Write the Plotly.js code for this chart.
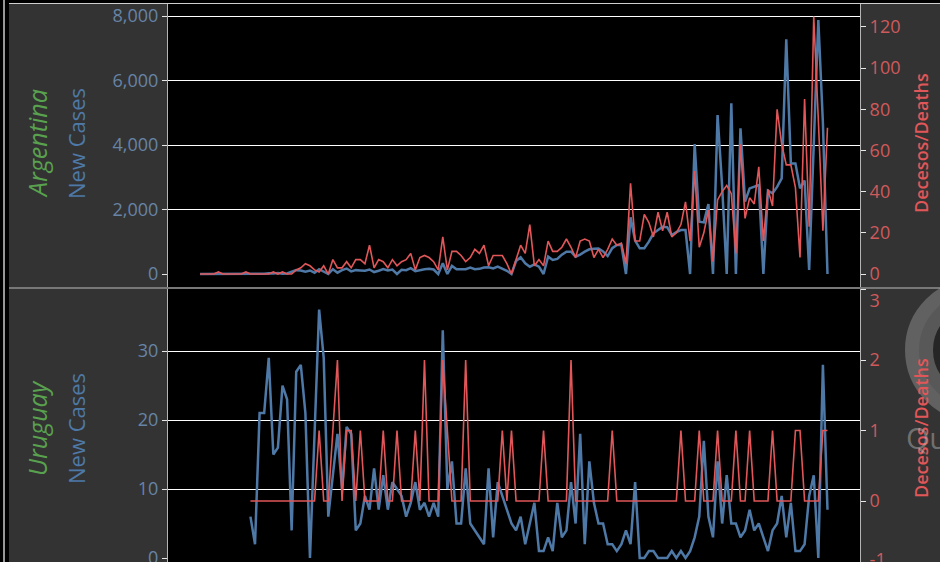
<!DOCTYPE html>
<html><head><meta charset="utf-8">
<script src="https://cdn.plot.ly/plotly-3.0.1.min.js"></script>
<style>html,body{margin:0;padding:0;background:#000;overflow:hidden;width:940px;height:562px}#chart{width:940px;height:585px}</style>
</head><body><div id="chart"></div><script>
// ---- data (day index from first Argentina record) ----
const argStartDay = 0;
const uyStartDay = 11;
const argCases = [1,0,0,1,0,0,2,1,3,5,2,12,0,3,11,20,12,31,6,17,
  60,120,110,70,110,40,150,80,0,150,40,120,170,80,120,110,100,140,60,100,
  150,110,140,0,130,120,180,90,130,150,160,140,0,330,0,250,150,160,150,200,
  150,160,200,210,170,230,176,100,0,400,517,331,227,300,230,0,537,434,470,600,
  692,692,537,600,692,765,780,790,700,558,800,899,899,0,1757,1034,796,800,1003,1261,
  1364,1467,1450,1209,1300,1364,1364,0,4030,1622,1600,2170,0,4929,2707,0,5291,0,4516,2242,
  2656,2700,2759,0,2583,2501,2700,2966,7274,3430,3430,2656,2900,124,3800,7874,4681,0];
const argDeaths = [0,0,0,0,1,0,0,0,0,0,1,0,0,0,0,0,1,0,1,0,
  0,2,3,5,4,2,1,4,0,7,3,3,6,3,7,7,5,14,3,7,
  6,3,7,4,6,7,10,2,8,9,8,6,2,18,2,11,11,9,6,8,
  12,10,14,4,9,9,9,5,0,7,14,10,24,4,7,4,16,11,11,13,
  17,13,8,16,17,16,8,12,8,12,17,14,15,5,44,16,16,29,25,18,
  30,21,30,18,20,24,35,16,50,13,20,31,6,36,40,43,39,10,63,27,
  37,34,52,16,41,33,80,63,53,53,42,8,85,23,125,75,21,71];
const uyCases = [6,2,21,21,29,15,16,25,23,4,
  27,28,21,0,18,36,29,6,12,18,
  10,19,18,4,5,9,7,13,7,12,
  7,11,10,9,6,8,11,7,8,6,
  8,6,33,10,14,5,5,13,5,4,
  3,2,13,3,11,9,7,5,4,6,
  2,5,8,1,1,3,1,8,3,4,
  11,5,18,2,14,8,5,5,2,2,
  1,2,4,2,11,0,0,1,1,0,
  0,0,1,0,1,0,1,3,6,17,
  6,3,14,5,12,5,5,3,4,7,
  4,5,3,1,4,5,9,3,8,1,
  1,2,9,12,0,28,7];
const uyDeaths = [0,0,0,0,0,0,0,0,0,0,
  0,0,0,0,0,1,0,0,1,2,
  0,1,1,0,1,0,0,0,0,1,
  0,0,1,0,0,0,1,0,2,0,
  0,0,2,1,0,0,0,2,0,0,
  0,0,0,0,0,1,0,1,0,0,
  0,0,0,0,1,0,0,0,0,0,
  2,0,0,0,0,0,0,0,0,1,
  0,0,0,0,0,0,0,0,0,0,
  0,0,0,0,1,0,0,0,1,0,
  0,0,1,0,0,0,1,0,0,1,
  0,0,0,0,1,0,0,0,0,1,
  1,0,0,0,0,1,1];
const countries = ["Argentina", "Uruguay"];
const casesLabel = "New Cases";
const deathsLabel = "Decesos/Deaths";
const topLeftTicks = [0,2000,4000,6000,8000];
const topRightTicks = [0,20,40,60,80,100,120];
const botLeftTicks = [0,10,20,30];
const botRightTicks = [-1,0,1,2,3];

// ---- geometry helpers (pixels -> paper) ----
const W = 940, H = 585, L = 168, R = 860;
const px = x => (x - L) / (R - L);
const py = y => (H - y) / H;

const BLUE = '#4e79a7', RED = '#e15759', GREEN = '#59a14f';
const FONT = 'Open Sans, sans-serif';

const traces = [
  {x0: argStartDay, dx: 1, y: argCases, xaxis: 'x', yaxis: 'y', type: 'scatter', mode: 'lines',
   line: {color: BLUE, width: 2.5}, name: countries[0] + ' ' + casesLabel},
  {x0: argStartDay, dx: 1, y: argDeaths, xaxis: 'x', yaxis: 'y2', type: 'scatter', mode: 'lines',
   line: {color: RED, width: 1.6}, name: countries[0] + ' ' + deathsLabel},
  {x0: uyStartDay, dx: 1, y: uyCases, xaxis: 'x2', yaxis: 'y3', type: 'scatter', mode: 'lines',
   line: {color: BLUE, width: 2.5}, name: countries[1] + ' ' + casesLabel},
  {x0: uyStartDay, dx: 1, y: uyDeaths, xaxis: 'x2', yaxis: 'y4', type: 'scatter', mode: 'lines',
   line: {color: RED, width: 1.6}, name: countries[1] + ' ' + deathsLabel}
];

const xr = [-7, 144.1];
const topDom = [py(287), py(4)];
const botDom = [0, py(289)];

const leftAx = (dom, range, ticks) => ({
  domain: dom, range: range, tickmode: 'array', tickvals: ticks, tickformat: ',d',
  showgrid: true, gridcolor: '#ffffff', gridwidth: 1,
  zeroline: true, zerolinecolor: 'rgba(0,0,0,0)', zerolinewidth: 1,
  showline: true, linecolor: '#b4b4b4', linewidth: 1,
  ticks: 'outside', ticklen: 5, tickcolor: '#e6e6e6', tickwidth: 1, ticklabeloverflow: 'allow',
  tickfont: {family: FONT, size: 18, color: '#6784a6'}, fixedrange: true
});
const rightAx = (over, anchor, range, ticks, text) => ({
  overlaying: over, anchor: anchor, side: 'right', range: range, tickmode: 'array', tickvals: ticks,
  ticktext: text, showgrid: false, zeroline: false, showline: true, linecolor: '#b4b4b4', linewidth: 1,
  ticks: 'outside', ticklen: 5, tickcolor: '#e6e6e6', tickwidth: 1, ticklabeloverflow: 'allow',
  tickfont: {family: FONT, size: 18, color: '#cf5a5c'}, fixedrange: true
});
// edge labels nudged inside the pane, as the original does
const botRightText = botRightTicks.map(v => v === 3 ? '&nbsp;<br>3' : (v === -1 ? '-1<br>&nbsp;' : String(v)));

const shapes = [];
shapes.push({type: 'rect', xref: 'paper', yref: 'paper', x0: px(0), x1: px(9), y0: -0.01, y1: 1.01,
  fillcolor: '#000', line: {width: 0}, layer: 'below'});
shapes.push({type: 'line', xref: 'paper', yref: 'paper', x0: px(4), x1: px(4), y0: 0, y1: 1,
  line: {color: '#e8e8e8', width: 1.3}});
shapes.push({type: 'rect', xref: 'paper', yref: 'paper', x0: px(0), x1: px(W), y0: py(3), y1: 1.01,
  fillcolor: '#000', line: {width: 0}, layer: 'below'});
shapes.push({type: 'line', xref: 'paper', yref: 'paper', x0: px(9), x1: px(W), y0: py(3.5), y1: py(3.5),
  line: {color: '#cfcfcf', width: 1}});
shapes.push({type: 'line', xref: 'paper', yref: 'paper', x0: px(9), x1: px(W), y0: py(288), y1: py(288),
  line: {color: '#bdbdbd', width: 1.2}});
// watermark ring (right edge)
shapes.push({type: 'circle', xref: 'paper', yref: 'paper',
  x0: px(977 - 58), x1: px(977 + 58), y0: py(350 + 58), y1: py(350 - 58),
  line: {color: 'rgba(190,190,190,0.33)', width: 28}, fillcolor: 'rgba(0,0,0,0.25)'});

const ann = (text, x, y, size, color, italic, weight) => ({
  text: italic ? '<i>' + text + '</i>' : text, xref: 'paper', yref: 'paper', x: px(x), y: py(y),
  xanchor: 'center', yanchor: 'middle', textangle: -90, showarrow: false,
  font: {family: FONT, size: size, color: color, weight: weight || 400}
});

const annotations = [
  ann(countries[0], 37, 144, 25, GREEN, true),
  ann(casesLabel, 76, 144, 22, BLUE),
  ann(deathsLabel, 921, 143, 18, RED, false, 600),
  ann(countries[1], 37, 428, 25, GREEN, true),
  ann(casesLabel, 76, 429, 22, BLUE),
  ann(deathsLabel, 921, 428, 18, RED, false, 600),
  {text: 'Qu', xref: 'paper', yref: 'paper', x: px(904), y: py(437), xanchor: 'left', yanchor: 'middle',
   showarrow: false, font: {family: FONT, size: 30, color: 'rgba(190,190,190,0.45)'}}
];

const layout = {
  width: W, height: H, margin: {l: L, r: W - R, t: 0, b: 0, pad: 0},
  paper_bgcolor: '#333333', plot_bgcolor: '#000000', showlegend: false, hovermode: false,
  xaxis: {domain: [0, 1], range: xr, anchor: 'y', showticklabels: false, showgrid: false, zeroline: false, ticks: '', fixedrange: true},
  xaxis2: {domain: [0, 1], range: xr, anchor: 'y3', showticklabels: false, showgrid: false, zeroline: false, ticks: '', fixedrange: true},
  yaxis: Object.assign(leftAx(topDom, [-403, 8372], topLeftTicks), {anchor: 'x'}),
  yaxis2: rightAx('y', 'x', [-6.3, 131.1], topRightTicks),
  yaxis3: Object.assign(leftAx(botDom, [(558 - 585) / 6.9, 38.99], botLeftTicks), {anchor: 'x2'}),
  yaxis4: rightAx('y3', 'x2', [(501 - 585) / 70.5, 3.007], botRightTicks, botRightText),
  shapes: shapes, annotations: annotations
};

Plotly.newPlot('chart', traces, layout, {displayModeBar: false, staticPlot: true});
</script></body></html>
